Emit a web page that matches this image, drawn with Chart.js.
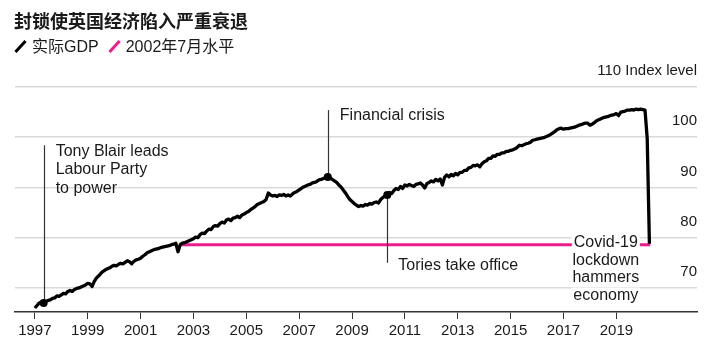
<!DOCTYPE html>
<html>
  <head>
    <meta charset="utf-8">
    <title>UK GDP lockdown</title>
    <script src="https://cdn.jsdelivr.net/npm/chart.js@4.4.1/dist/chart.umd.min.js"></script>
    <style>
      body { margin: 0; background: #fff; }
      #wrap { position: relative; width: 720px; height: 357px; font-family: "Liberation Sans", "Noto Sans CJK SC", sans-serif; color: #1a1a1a; }
      #title { position: absolute; left: 14px; top: 8px; font-size: 18px; font-weight: bold; font-family: "Noto Sans CJK SC", sans-serif; line-height: 24px; }
      #legend { position: absolute; left: 14px; top: 37px; font-size: 16px; line-height: 20px; white-space: nowrap; }
      .key { display: inline-block; width: 3px; height: 15px; transform: rotate(42deg); vertical-align: -2px; margin: 0 10px 0 5px; }
      canvas { position: absolute; left: 0; top: 0; }
    </style>
    <script>
      const startYear = 1997;
      const gdp = [
        66.0, 66.5, 67.0, 67.2, 67.0, 67.3, 67.5, 67.6, 67.9, 68.0, 68.4, 68.3, // 1997
        68.6, 68.9, 68.8, 69.3, 69.5, 69.3, 69.7, 69.9, 70.0, 70.2, 70.4, 70.6, // 1998
        70.9, 70.8, 70.3, 71.3, 72.0, 72.4, 72.9, 73.3, 73.6, 73.8, 74.0, 74.3, // 1999
        74.5, 74.4, 74.7, 74.9, 74.8, 75.1, 75.4, 75.2, 74.8, 75.3, 75.6, 75.7, // 2000
        75.9, 76.3, 76.6, 77.0, 77.2, 77.4, 77.6, 77.7, 77.8, 78.0, 78.1, 78.2, // 2001
        78.3, 78.4, 78.6, 78.7, 78.9, 77.2, 78.6, 78.9, 79.0, 79.2, 79.4, 79.6, // 2002
        79.8, 80.1, 80.0, 80.6, 80.9, 80.8, 81.3, 81.7, 81.6, 82.2, 82.4, 82.3, // 2003
        82.8, 83.1, 82.9, 83.5, 83.7, 83.4, 83.9, 84.0, 84.3, 84.0, 84.5, 84.7, // 2004
        85.0, 85.2, 85.6, 85.9, 86.2, 86.6, 86.8, 87.0, 87.2, 87.6, 88.9, 88.5, // 2005
        88.3, 88.4, 88.2, 88.5, 88.4, 88.6, 88.3, 88.5, 88.3, 88.7, 89.0, 89.2, // 2006
        89.5, 89.8, 90.1, 90.3, 90.5, 90.6, 90.9, 91.0, 91.2, 91.5, 91.6, 91.8, // 2007
        92.0, 92.1, 91.9, 91.6, 91.3, 91.0, 90.5, 90.1, 89.5, 88.9, 88.2, 87.6, // 2008
        87.2, 86.8, 86.5, 86.2, 86.4, 86.3, 86.6, 86.5, 86.8, 86.7, 87.0, 87.1, // 2009
        86.9, 87.6, 88.0, 88.3, 88.5, 89.0, 88.8, 89.4, 89.8, 89.6, 90.2, 89.8, // 2010
        90.5, 90.3, 90.6, 90.4, 90.2, 90.6, 90.7, 90.9, 90.5, 89.9, 90.8, 91.0, // 2011
        91.3, 91.1, 91.6, 91.3, 91.7, 90.5, 92.0, 92.5, 92.1, 92.6, 92.3, 92.8, // 2012
        92.5, 93.0, 93.0, 93.4, 93.4, 93.9, 94.0, 94.4, 94.3, 94.5, 94.1, 94.7, // 2013
        95.1, 95.3, 95.8, 95.8, 96.3, 96.2, 96.6, 96.6, 96.9, 96.9, 97.2, 97.2, // 2014
        97.4, 97.5, 97.7, 98.0, 98.4, 98.3, 98.5, 98.7, 98.8, 99.0, 99.4, 99.5, // 2015
        99.6, 99.7, 99.8, 99.9, 100.1, 100.3, 100.5, 100.8, 101.1, 101.5, 101.7, 101.8, // 2016
        101.6, 101.7, 101.7, 101.8, 101.9, 102.0, 102.2, 102.4, 102.5, 102.7, 102.8, 102.8, // 2017
        102.4, 102.6, 102.9, 103.3, 103.5, 103.7, 103.9, 104.0, 104.1, 104.3, 104.4, 104.5, // 2018
        104.7, 104.3, 105.0, 105.1, 105.2, 105.4, 105.4, 105.5, 105.4, 105.6, 105.5, 105.6, // 2019
        105.5, 105.4, 99.7, 78.8 // 2020
      ];
      const tickYears = [1997, 1999, 2001, 2003, 2005, 2007, 2009, 2011, 2013, 2015, 2017, 2019];
      const yTicks = [70, 80, 90, 100, 110];
      const refIndex = (2002 - startYear) * 12 + 6; // July 2002

      const BLACK = '#000000';
      const PINK = '#ee1b8c';

      // event notes: month the event happened, where the leader line ends (index value), text lines
      const notes = [
        { date: 1997 + 4 / 12, to: 98.4, lines: ['Tony Blair leads', 'Labour Party', 'to power'], dx: 12, dy: 6 },
        { date: 2008 + 1 / 12, to: 105.4, lines: ['Financial crisis'], dx: 12, dy: 5 },
        { date: 2010 + 4 / 12, to: 75.0, lines: ['Tories take office'], dx: 11, dy: 3 }
      ];
      const covidNote = { date: 2018.6, lines: ['Covid-19', 'lockdown', 'hammers', 'economy'] };

      function monthValue(date) {
        return gdp[Math.round((date - startYear) * 12)];
      }

      const notesPlugin = {
        id: 'notes',
        afterDatasetsDraw(chart) {
          const ctx = chart.ctx;
          const xs = chart.scales.x, ys = chart.scales.y;
          ctx.save();
          ctx.font = '16px "Liberation Sans", sans-serif';
          ctx.textBaseline = 'middle';
          notes.forEach(n => {
            const px = xs.getPixelForValue(n.date);
            const py = ys.getPixelForValue(monthValue(n.date));
            const end = ys.getPixelForValue(n.to);
            ctx.strokeStyle = '#333';
            ctx.lineWidth = 1.2;
            ctx.beginPath();
            ctx.moveTo(Math.round(px) + 0.5, py);
            ctx.lineTo(Math.round(px) + 0.5, end);
            ctx.stroke();
            ctx.fillStyle = BLACK;
            ctx.beginPath();
            ctx.arc(px, py, 4, 0, Math.PI * 2);
            ctx.fill();
            ctx.fillStyle = '#1a1a1a';
            ctx.textAlign = 'left';
            n.lines.forEach((t, i) => ctx.fillText(t, px + n.dx, end + n.dy + i * 18.8));
          });

          // covid label sits on the pink line, knocked out with white
          const cx = xs.getPixelForValue(covidNote.date);
          const cy = ys.getPixelForValue(gdp[refIndex]) - 2;
          ctx.textAlign = 'center';
          covidNote.lines.forEach((t, i) => {
            const w = ctx.measureText(t).width;
            const y = cy + i * 17.6;
            ctx.fillStyle = '#fff';
            ctx.fillRect(cx - w / 2 - 2, y - 8, w + 4, 16);
            ctx.fillStyle = '#1a1a1a';
            ctx.fillText(t, cx, y);
          });
          ctx.restore();
        }
      };

      function drawChart() {
        const line = gdp.map((v, i) => ({ x: startYear + i / 12, y: v }));
        const ref = [
          { x: startYear + refIndex / 12, y: gdp[refIndex] },
          { x: startYear + (gdp.length - 1) / 12 + 0.03, y: gdp[refIndex] }
        ];

        new Chart(document.getElementById('chart'), {
          type: 'line',
          data: {
            datasets: [
              { label: '实际GDP', data: line, borderColor: BLACK, borderWidth: 3.3, pointRadius: 0, tension: 0, borderJoinStyle: 'round', order: 1 },
              { label: '2002年7月水平', data: ref, borderColor: PINK, borderWidth: 3, pointRadius: 0, order: 2 }
            ]
          },
          options: {
            responsive: false,
            animation: false,
            layout: { padding: { top: 87, left: 15, right: 23, bottom: 14 } },
            plugins: { legend: { display: false }, tooltip: { enabled: false } },
            scales: {
              x: {
                type: 'linear',
                min: 1996.25,
                max: 2022.05,
                afterBuildTicks: s => { s.ticks = tickYears.map(v => ({ value: v })); },
                grid: { drawOnChartArea: false, drawTicks: true, tickLength: 7, color: '#333', lineWidth: 1 },
                border: { display: true, color: '#333', width: 1.5 },
                ticks: {
                  color: '#1a1a1a',
                  font: { family: '"Liberation Sans", sans-serif', size: 15 },
                  padding: 3,
                  maxRotation: 0,
                  autoSkip: false,
                  callback: v => String(v)
                }
              },
              y: {
                position: 'right',
                min: 65.2,
                max: 110,
                afterBuildTicks: s => { s.ticks = yTicks.map(v => ({ value: v })); },
                grid: { color: '#d9d9d9', lineWidth: 1.5, drawTicks: false },
                border: { display: false },
                ticks: {
                  mirror: true,
                  padding: 0,
                  labelOffset: -16,
                  color: '#1a1a1a',
                  font: { family: '"Liberation Sans", sans-serif', size: 15 },
                  callback: v => v === 110 ? '110 Index level' : String(v)
                }
              }
            }
          },
          plugins: [notesPlugin]
        });
      }
    </script>
  </head>
  <body onload="drawChart()">
    <div id="wrap">
      <canvas id="chart" width="720" height="357"></canvas>
      <div id="title">封锁使英国经济陷入严重衰退</div>
      <div id="legend"><span class="key" style="background:#000"></span>实际GDP<span class="key" style="background:#ee1b8c; margin-left:14px"></span>2002年7月水平</div>
    </div>
  </body>
</html>
